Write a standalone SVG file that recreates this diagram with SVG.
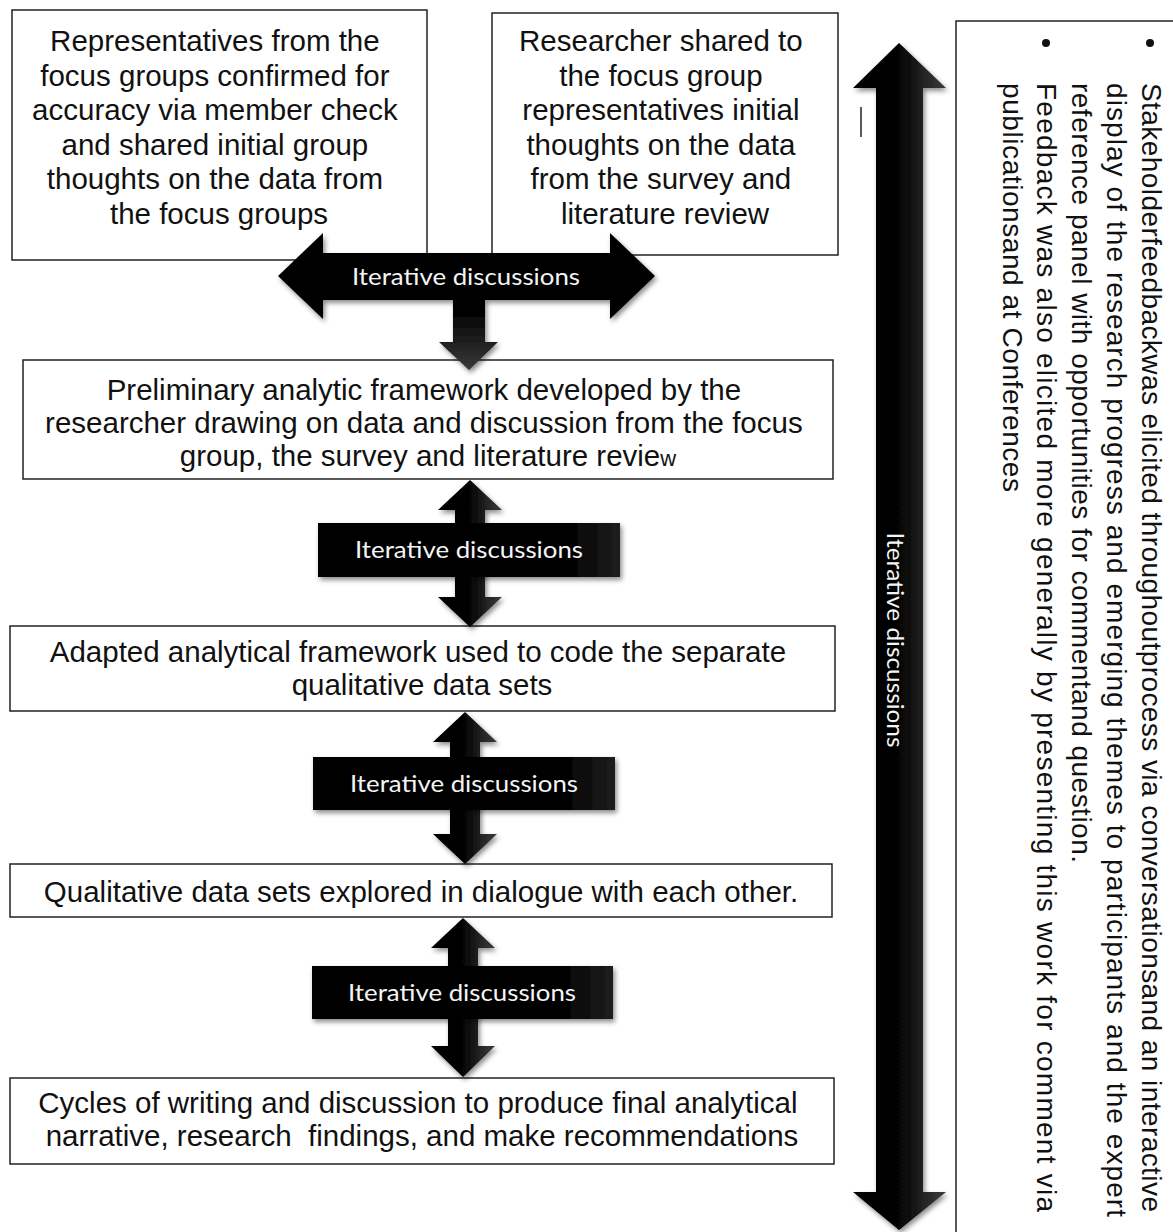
<svg xmlns="http://www.w3.org/2000/svg" width="1173" height="1232" viewBox="0 0 1173 1232">
  <defs>
    <linearGradient id="arrowFill" x1="0" y1="0" x2="1" y2="0">
      <stop offset="0" stop-color="#000"/>
      <stop offset="0.55" stop-color="#070707"/>
      <stop offset="0.78" stop-color="#262626"/>
      <stop offset="1" stop-color="#3a3a3a"/>
    </linearGradient>
    <linearGradient id="tFill" x1="0" y1="0" x2="0" y2="1">
      <stop offset="0" stop-color="#000"/>
      <stop offset="0.6" stop-color="#050505"/>
      <stop offset="1" stop-color="#3a3a3a"/>
    </linearGradient>
    <linearGradient id="labelFill" x1="0" y1="0" x2="1" y2="0">
      <stop offset="0" stop-color="#000"/>
      <stop offset="0.85" stop-color="#050505"/>
      <stop offset="1" stop-color="#1e1e1e"/>
    </linearGradient>
    <filter id="shadow" x="-20%" y="-20%" width="140%" height="140%">
      <feDropShadow dx="2" dy="3" stdDeviation="2.5" flood-color="#000" flood-opacity="0.45"/>
    </filter>
  </defs>
  <style>
    .box { fill: #fff; stroke: #222; stroke-width: 1.5; }
    .txt { font-family: "Liberation Sans", Arial, sans-serif; font-size: 29.5px; fill: #111; text-anchor: middle; }
    .side { font-family: "Liberation Sans", Arial, sans-serif; font-size: 28px; fill: #111; }
    .arrow { fill: url(#arrowFill); filter: url(#shadow); }
    .label { fill: url(#labelFill); filter: url(#shadow); }
    .ltxt { font-family: Lato, "Open Sans", sans-serif; font-size: 23px; fill: #f4f4f4; text-anchor: middle; }
  </style>

  <rect width="1173" height="1232" fill="#fff"/>

  <!-- side panel with stakeholder notes -->
  <g id="stakeholder-panel">
    <rect class="box" x="956" y="21" width="240" height="1240"/>
    <circle cx="1150" cy="43" r="4" fill="#111"/>
    <circle cx="1046" cy="43" r="4" fill="#111"/>
    <text class="side" transform="translate(1142,83) rotate(90)" textLength="1129" lengthAdjust="spacing">Stakeholderfeedbackwas elicited throughoutprocess via conversationsand an interactive</text>
    <text class="side" transform="translate(1107,83) rotate(90)" textLength="1134" lengthAdjust="spacing">display of the research progress and emerging themes to participants and the expert</text>
    <text class="side" transform="translate(1072,83) rotate(90)" textLength="780" lengthAdjust="spacing">reference panel with opportunities for commentand question.</text>
    <text class="side" transform="translate(1037,83) rotate(90)" textLength="1129" lengthAdjust="spacing">Feedback was also elicited more generally by presenting this work for comment  via</text>
    <text class="side" transform="translate(1003,83) rotate(90)" textLength="409" lengthAdjust="spacing">publicationsand at Conferences</text>
  </g>

  <!-- process boxes -->
  <g id="focus-groups">
    <rect class="box" x="12" y="10" width="415" height="250"/>
    <text class="txt">
      <tspan x="219" y="51">Representatives from the</tspan>
      <tspan x="219" y="85.5">focus groups confirmed for</tspan>
      <tspan x="219" y="120">accuracy via member check</tspan>
      <tspan x="219" y="154.5">and shared initial group</tspan>
      <tspan x="219" y="189">thoughts on the data from</tspan>
      <tspan x="219" y="223.5">the focus groups</tspan>
    </text>
  </g>

  <g id="researcher-shared">
    <rect class="box" x="492" y="13" width="346" height="242"/>
    <text class="txt">
      <tspan x="665" y="51">Researcher shared to</tspan>
      <tspan x="665" y="85.5">the focus group</tspan>
      <tspan x="665" y="120">representatives initial</tspan>
      <tspan x="665" y="154.5">thoughts on the data</tspan>
      <tspan x="665" y="189">from the survey and</tspan>
      <tspan x="665" y="223.5">literature review</tspan>
    </text>
  </g>

  <g id="preliminary-framework">
    <rect class="box" x="23" y="360" width="810" height="119"/>
    <text class="txt">
      <tspan x="428" y="400">Preliminary analytic framework developed by the</tspan>
      <tspan x="428" y="433">researcher drawing on data and discussion from the focus</tspan>
      <tspan x="428" y="466">group, the survey and literature revie<tspan font-size="22px">w</tspan></tspan>
    </text>
  </g>

  <g id="adapted-framework">
    <rect class="box" x="10" y="626" width="825" height="85"/>
    <text class="txt">
      <tspan x="422" y="662">Adapted analytical framework used to code the separate</tspan>
      <tspan x="422" y="695">qualitative data sets</tspan>
    </text>
  </g>

  <g id="data-sets-dialogue">
    <rect class="box" x="10" y="864" width="822" height="53"/>
    <text class="txt" x="421" y="902">Qualitative data sets explored in dialogue with each other.</text>
  </g>

  <g id="writing-cycles">
    <rect class="box" x="10" y="1078" width="824" height="86"/>
    <text class="txt">
      <tspan x="422" y="1113">Cycles of writing and discussion to produce final analytical</tspan>
      <tspan x="422" y="1146" xml:space="preserve">narrative, research  findings, and make recommendations</tspan>
    </text>
  </g>

  <!-- connectors: block arrows labelled "Iterative discussions" -->
  <g id="connectors">
    <path fill="url(#tFill)" filter="url(#shadow)" d="M278,276 L323,233 L323,253 L610,253 L610,233 L655,276 L610,319 L610,300 L485,300 L485,342 L498,342 L469,370 L439,342 L453,342 L453,300 L323,300 L323,319 Z"/>
    <text class="ltxt" x="466" y="285" textLength="228" lengthAdjust="spacingAndGlyphs">Iterative discussions</text>

    <path class="arrow" d="M470,480 L502,510 L485,510 L485,597 L502,597 L470,627 L438,597 L455,597 L455,510 L438,510 Z"/>
    <rect class="label" x="318" y="523" width="302" height="54"/>
    <text class="ltxt" x="469" y="558" textLength="228" lengthAdjust="spacingAndGlyphs">Iterative discussions</text>

    <path class="arrow" d="M465,712 L497,742 L480,742 L480,834 L497,834 L465,864 L433,834 L450,834 L450,742 L433,742 Z"/>
    <rect class="label" x="313" y="757" width="302" height="53"/>
    <text class="ltxt" x="464" y="792" textLength="228" lengthAdjust="spacingAndGlyphs">Iterative discussions</text>

    <path class="arrow" d="M463,918 L495,948 L478,948 L478,1046 L495,1046 L463,1077 L431,1046 L448,1046 L448,948 L431,948 Z"/>
    <rect class="label" x="312" y="966" width="301" height="53"/>
    <text class="ltxt" x="462" y="1001" textLength="228" lengthAdjust="spacingAndGlyphs">Iterative discussions</text>

    <path class="arrow" d="M899,43 L946,88 L923,88 L923,1192 L946,1192 L899,1230 L853,1192 L876,1192 L876,88 L853,88 Z"/>
    <text class="ltxt" transform="translate(887,640) rotate(90)" textLength="215" lengthAdjust="spacingAndGlyphs">Iterative discussions</text>
  </g>

  <!-- short stray tick left of the long arrow -->
  <line x1="861" y1="107" x2="861" y2="137" stroke="#222" stroke-width="1.5"/>
</svg>
